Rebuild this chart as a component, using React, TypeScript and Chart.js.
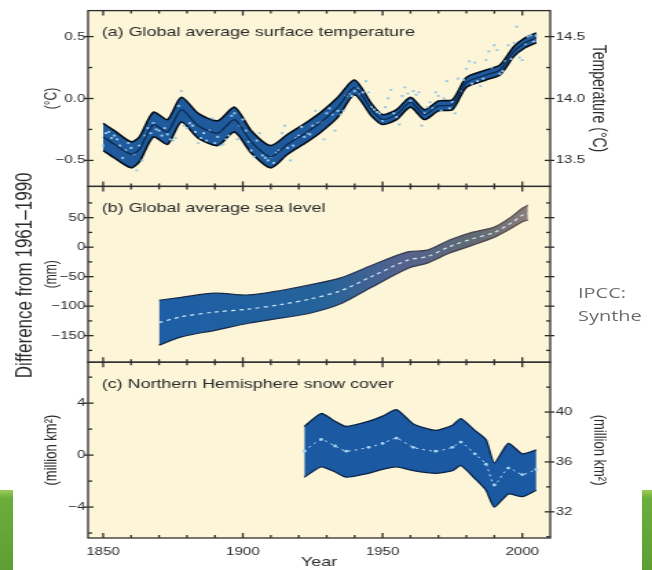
import { useEffect, useRef } from 'react';
import { Chart, registerables } from 'chart.js';

Chart.register(...registerables);

// ---------- data ----------
const X_TICKS = [1850, 1900, 1950, 2000];
const X_TICK_LABELS = ['1850', '1900', '1950', '2000'];

// (a) global average surface temperature, anomaly (°C)
const TEMP_YEARS = [1850, 1854, 1860, 1863, 1868, 1873, 1878, 1884, 1891, 1897, 1903, 1910, 1916, 1923, 1928, 1934, 1940, 1946, 1950, 1955, 1960, 1965, 1970, 1975, 1980, 1987, 1992, 1997, 2001, 2005];
const TEMP_SMOOTH = [-0.31, -0.37, -0.45, -0.41, -0.21, -0.27, -0.09, -0.22, -0.28, -0.17, -0.35, -0.47, -0.37, -0.27, -0.19, -0.07, 0.09, -0.09, -0.17, -0.13, -0.03, -0.13, -0.06, -0.05, 0.13, 0.19, 0.23, 0.38, 0.45, 0.49];
const TEMP_UPPER = [-0.2, -0.26, -0.35, -0.31, -0.11, -0.17, 0.01, -0.12, -0.18, -0.07, -0.26, -0.38, -0.29, -0.19, -0.11, 0.01, 0.15, -0.04, -0.13, -0.09, 0.01, -0.09, -0.02, -0.01, 0.17, 0.23, 0.27, 0.42, 0.49, 0.53];
const TEMP_LOWER = [-0.42, -0.48, -0.56, -0.51, -0.31, -0.37, -0.19, -0.32, -0.38, -0.27, -0.44, -0.56, -0.45, -0.35, -0.27, -0.15, 0.03, -0.14, -0.21, -0.17, -0.07, -0.17, -0.1, -0.09, 0.09, 0.15, 0.19, 0.34, 0.41, 0.45];
const TEMP_ANNUAL_FIRST_YEAR = 1850;
const TEMP_ANNUAL = [
  -0.38, -0.28, -0.27, -0.32, -0.3, -0.33, -0.38, -0.48, -0.42, -0.36,
  -0.4, -0.45, -0.58, -0.38, -0.5, -0.3, -0.24, -0.28, -0.2, -0.25,
  -0.26, -0.3, -0.24, -0.29, -0.33, -0.34, -0.32, -0.06, 0.06, -0.22,
  -0.24, -0.2, -0.22, -0.27, -0.36, -0.32, -0.28, -0.34, -0.26, -0.16,
  -0.36, -0.31, -0.38, -0.37, -0.33, -0.3, -0.14, -0.12, -0.33, -0.22,
  -0.17, -0.26, -0.35, -0.42, -0.47, -0.34, -0.28, -0.46, -0.48, -0.5,
  -0.47, -0.52, -0.44, -0.42, -0.28, -0.22, -0.4, -0.5, -0.38, -0.32,
  -0.3, -0.23, -0.31, -0.28, -0.29, -0.22, -0.1, -0.2, -0.19, -0.33,
  -0.12, -0.08, -0.13, -0.26, -0.1, -0.13, -0.1, 0.02, 0.04, 0.02,
  0.06, 0.08, 0.04, 0.05, 0.14, 0.05, -0.07, -0.09, -0.11, -0.12,
  -0.18, -0.07, 0.0, 0.07, -0.12, -0.15, -0.21, 0.02, 0.09, 0.04,
  -0.02, 0.06, 0.03, 0.05, -0.22, -0.12, -0.07, -0.03, -0.08, 0.05,
  0.02, -0.1, 0.0, 0.14, -0.08, -0.03, -0.12, 0.16, 0.06, 0.15,
  0.24, 0.3, 0.12, 0.29, 0.14, 0.1, 0.16, 0.31, 0.38, 0.25,
  0.43, 0.39, 0.2, 0.22, 0.3, 0.43, 0.32, 0.45, 0.58, 0.33,
  0.31, 0.44, 0.5, 0.51, 0.46, 0.51,
];
const TEMP_TICKS = [-0.5, 0, 0.5];
const TEMP_TICK_LABELS = ['\u22120.5', '0.0', '0.5'];
const TEMP_ABS_TICKS = [13.5, 14.0, 14.5];
const TEMP_ABS_TICK_LABELS = ['13.5', '14.0', '14.5'];

// (b) global average sea level (mm)
const SEA_YEARS = [1870, 1878, 1890, 1902, 1914, 1924, 1935, 1946, 1959, 1966, 1974, 1982, 1990, 1996, 2000, 2002];
const SEA_UPPER = [-90, -85, -78, -81, -73, -64, -52, -31, -8, -5, 12, 25, 34, 51, 66, 71];
const SEA_LOWER = [-166, -152, -141, -129, -120, -112, -96, -68, -36, -27, -10, 3, 17, 32, 43, 46];
const SEA_MEAN = [-128, -118, -110, -105, -97, -88, -74, -50, -22, -16, 1, 14, 25, 41, 54, 58];
const SEA_TICKS = [-150, -100, -50, 0, 50];
const SEA_TICK_LABELS = ['\u2212150', '\u2212100', '\u221250', '0', '50'];

// (c) Northern Hemisphere snow cover (million km²)
const SNOW_YEARS = [1922, 1928, 1933, 1937, 1945, 1950, 1955, 1961, 1969, 1975, 1978, 1983, 1987, 1990, 1995, 2000, 2005];
const SNOW_UPPER = [2.2, 3.2, 2.6, 2.2, 2.6, 3.0, 3.5, 2.4, 1.9, 2.3, 2.8, 1.9, 1.2, -0.6, 0.9, 0.1, 0.4];
const SNOW_LOWER = [-1.7, -0.9, -1.3, -1.7, -1.4, -1.1, -0.9, -1.2, -1.4, -1.2, -0.8, -1.8, -2.7, -4.0, -3.0, -3.2, -2.7];
const SNOW_MEAN = [0.3, 1.2, 0.7, 0.3, 0.6, 0.9, 1.3, 0.6, 0.3, 0.6, 1.0, 0.1, -0.7, -2.3, -1.0, -1.5, -1.1];
const SNOW_TICKS = [-4, 0, 4];
const SNOW_TICK_LABELS = ['\u22124', '0', '4'];
const SNOW_ABS_TICKS = [32, 36, 40];
const SNOW_ABS_TICK_LABELS = ['32', '36', '40'];

const PANEL_TITLES = [
  '(a) Global average surface temperature',
  '(b) Global average sea level',
  '(c) Northern Hemisphere snow cover',
];

// ---------- style ----------
const CANVAS_W = 474;
const CANVAS_H = 570;
const PAGE_W = 652;
const CREAM = '#fcf5d8';
const INK = '#2a2a2a';
const FONT = '"Liberation Sans", Arial, Helvetica, sans-serif';

const pts = (xs: number[], ys: number[]) => xs.map((x, i) => ({ x, y: ys[i] }));
const TEMP_ANNUAL_YEARS = TEMP_ANNUAL.map((_, i) => TEMP_ANNUAL_FIRST_YEAR + i);

function line(ctx: any, x1: number, y1: number, x2: number, y2: number) {
  ctx.beginPath();
  ctx.moveTo(x1, y1);
  ctx.lineTo(x2, y2);
  ctx.stroke();
}

function drawYTicks(ctx: any, s: any, x0: number, dir: number) {
  const majors = s.ticks.map((t: any) => t.value);
  const step = majors[1] - majors[0];
  const minors = [majors[0] - step / 2, ...majors.map((v: number) => v + step / 2)].filter(
    (v) => v > s.min && v < s.max
  );
  majors.forEach((v: number) => {
    const y = s.getPixelForValue(v);
    line(ctx, x0 - dir * 3, y, x0 + dir * 4, y);
  });
  minors.forEach((v: number) => {
    const y = s.getPixelForValue(v);
    line(ctx, x0, y, x0 + dir * 3, y);
  });
}

const panelPlugin = {
  id: 'panels',
  beforeDraw(chart: any) {
    const { ctx, chartArea: a } = chart;
    ctx.save();
    ctx.fillStyle = CREAM;
    ctx.fillRect(a.left, a.top, a.right - a.left, a.bottom - a.top);
    ctx.restore();
  },
  afterDraw(chart: any) {
    const { ctx, chartArea: a, scales } = chart;
    const xs = scales.x;
    ctx.save();
    ctx.strokeStyle = '#2e2e2e';
    ctx.lineWidth = 1.3;
    const panels = [
      { id: 'yA', rid: 'yA2' },
      { id: 'yB', rid: 'yB2' },
      { id: 'yC', rid: 'yC2' },
    ];
    panels.forEach((p, i) => {
      const s = scales[p.id];
      const r = scales[p.rid];
      ctx.strokeRect(a.left, s.top, a.right - a.left, s.bottom - s.top);
      for (let yr = 1850; yr <= 2010; yr += 10) {
        const px = xs.getPixelForValue(yr);
        if (px <= a.left || px >= a.right) continue;
        const len = yr % 50 === 0 ? 5 : 3;
        line(ctx, px, s.top, px, s.top + len);
        line(ctx, px, s.bottom, px, s.bottom - len);
      }
      drawYTicks(ctx, s, a.left, 1);
      drawYTicks(ctx, r, a.right, -1);
      ctx.fillStyle = INK;
      ctx.font = `13px ${FONT}`;
      ctx.textBaseline = 'middle';
      ctx.textAlign = 'left';
      ctx.fillText(PANEL_TITLES[i], a.left + 10, s.top + 22);
    });
    ctx.translate(18, (a.top + a.bottom) / 2 + 1);
    ctx.rotate(-Math.PI / 2);
    ctx.textAlign = 'center';
    ctx.textBaseline = 'middle';
    ctx.fillStyle = INK;
    ctx.font = `17px ${FONT}`;
    ctx.fillText('Difference from 1961\u20131990', 0, 0);
    ctx.restore();
  },
};

function yAxis(opts: any) {
  const { position, stack, min, max, ticks, labels, title, titleSize, titlePad, width, showLabels } = opts;
  return {
    type: 'linear',
    position,
    stack,
    stackWeight: 1,
    min,
    max,
    afterBuildTicks: (s: any) => {
      s.ticks = ticks.map((v: number) => ({ value: v }));
    },
    afterFit: (s: any) => {
      s.width = width;
    },
    grid: { display: false, drawTicks: false },
    border: { display: false },
    ticks: {
      display: showLabels,
      color: INK,
      font: { family: FONT, size: 11 },
      padding: position === 'left' ? 2 : 4,
      autoSkip: false,
      callback: (_v: any, i: number) => (labels ? labels[i] : ''),
    },
    title: {
      display: !!title,
      text: title || '',
      color: INK,
      font: { family: FONT, size: titleSize || 12 },
      padding: { top: titlePad || 30, bottom: 0 },
    },
  };
}

export default function App() {
  const ref = useRef<HTMLCanvasElement>(null);

  useEffect(() => {
    const canvas = ref.current;
    if (!canvas) return;

    const seaFill = (c: any) => {
      const chart = c.chart;
      const xs = chart.scales && chart.scales.x;
      if (!chart.chartArea || !xs) return '#1f5fa8';
      const g = chart.ctx.createLinearGradient(xs.getPixelForValue(1870), 0, xs.getPixelForValue(2002), 0);
      g.addColorStop(0, '#1d5ea6');
      g.addColorStop(0.45, '#25639a');
      g.addColorStop(0.66, '#56628c');
      g.addColorStop(0.86, '#606b72');
      g.addColorStop(1, '#8c7c7a');
      return g;
    };
    const seaEdge = (c: any) => {
      const chart = c.chart;
      const xs = chart.scales && chart.scales.x;
      if (!chart.chartArea || !xs) return '#0d2a48';
      const g = chart.ctx.createLinearGradient(xs.getPixelForValue(1870), 0, xs.getPixelForValue(2002), 0);
      g.addColorStop(0, '#0c2646');
      g.addColorStop(0.6, '#2c3550');
      g.addColorStop(1, '#5a4c4c');
      return g;
    };

    const base = { pointRadius: 0, pointHoverRadius: 0, xAxisID: 'x' };

    const chart = new Chart(canvas, {
      type: 'line',
      data: {
        datasets: [
          // (a)
          { ...base, label: 'temp-lower', yAxisID: 'yA', data: pts(TEMP_YEARS, TEMP_LOWER), borderColor: '#050d18', borderWidth: 1.6, tension: 0.25, fill: false, order: 4 },
          { ...base, label: 'temp-upper', yAxisID: 'yA', data: pts(TEMP_YEARS, TEMP_UPPER), borderColor: '#050d18', borderWidth: 1.6, tension: 0.25, fill: '-1', backgroundColor: '#1e5a9c', order: 5 },
          { ...base, label: 'temp-annual', yAxisID: 'yA', data: pts(TEMP_ANNUAL_YEARS, TEMP_ANNUAL), showLine: false, pointRadius: 1.15, pointBackgroundColor: '#9cc8e6', pointBorderWidth: 0, order: 2 },
          { ...base, label: 'temp-smooth', yAxisID: 'yA', data: pts(TEMP_YEARS, TEMP_SMOOTH), borderColor: '#0c2a50', borderWidth: 1.3, tension: 0.25, fill: false, order: 1 },
          // (b)
          { ...base, label: 'sea-lower', yAxisID: 'yB', data: pts(SEA_YEARS, SEA_LOWER), borderColor: seaEdge, borderWidth: 1.2, tension: 0.3, fill: false, order: 4 },
          { ...base, label: 'sea-upper', yAxisID: 'yB', data: pts(SEA_YEARS, SEA_UPPER), borderColor: seaEdge, borderWidth: 1.2, tension: 0.3, fill: '-1', backgroundColor: seaFill, order: 5 },
          { ...base, label: 'sea-mean', yAxisID: 'yB', data: pts(SEA_YEARS, SEA_MEAN), borderColor: '#cfe7f6', borderWidth: 1.2, borderDash: [3, 3], tension: 0.3, fill: false, order: 1 },
          // (c)
          { ...base, label: 'snow-lower', yAxisID: 'yC', data: pts(SNOW_YEARS, SNOW_LOWER), borderColor: '#0a2448', borderWidth: 1.3, tension: 0.2, fill: false, order: 4 },
          { ...base, label: 'snow-upper', yAxisID: 'yC', data: pts(SNOW_YEARS, SNOW_UPPER), borderColor: '#0a2448', borderWidth: 1.3, tension: 0.2, fill: '-1', backgroundColor: '#1b59a2', order: 5 },
          { ...base, label: 'snow-mean', yAxisID: 'yC', data: pts(SNOW_YEARS, SNOW_MEAN), borderColor: '#bfe0f5', borderWidth: 1, borderDash: [2, 3], tension: 0.2, fill: false, pointRadius: 1.4, pointBackgroundColor: '#a9d4f2', pointBorderWidth: 0, order: 1 },
        ],
      },
      options: {
        animation: false,
        responsive: false,
        devicePixelRatio: 1,
        events: [],
        layout: { padding: { top: 10, left: 0, right: 0, bottom: 0 } },
        plugins: { legend: { display: false }, tooltip: { enabled: false } },
        scales: {
          x: {
            type: 'linear',
            position: 'bottom',
            min: 1844.6,
            max: 2010,
            afterBuildTicks: (s: any) => {
              s.ticks = X_TICKS.map((v) => ({ value: v }));
            },
            afterFit: (s: any) => {
              s.height = 32;
            },
            grid: { display: false, drawTicks: false },
            border: { display: false },
            ticks: {
              color: INK,
              font: { family: FONT, size: 11 },
              padding: 7,
              maxRotation: 0,
              autoSkip: false,
              callback: (_v: any, i: number) => X_TICK_LABELS[i],
            },
            title: { display: true, text: 'Year', color: INK, font: { family: FONT, size: 13 }, padding: { top: 0, bottom: 0 } },
          },
          // left stack: later keys are placed higher
          yC: yAxis({ position: 'left', stack: 'L', min: -6.38, max: 7.15, ticks: SNOW_TICKS, labels: SNOW_TICK_LABELS, title: '(million km\u00b2)', titleSize: 13, titlePad: 30, width: 64, showLabels: true }),
          yB: yAxis({ position: 'left', stack: 'L', min: -195, max: 103, ticks: SEA_TICKS, labels: SEA_TICK_LABELS, title: '(mm)', titleSize: 12, titlePad: 30, width: 64, showLabels: true }),
          yA: yAxis({ position: 'left', stack: 'L', min: -0.71, max: 0.71, ticks: TEMP_TICKS, labels: TEMP_TICK_LABELS, title: '(\u00b0C)', titleSize: 12, titlePad: 30, width: 64, showLabels: true }),
          // right stack: earlier keys are placed higher
          yA2: yAxis({ position: 'right', stack: 'R', min: 13.29, max: 14.71, ticks: TEMP_ABS_TICKS, labels: TEMP_ABS_TICK_LABELS, title: 'Temperature (\u00b0C)', titleSize: 14, titlePad: 31, width: 74, showLabels: true }),
          yB2: yAxis({ position: 'right', stack: 'R', min: -195, max: 103, ticks: SEA_TICKS, labels: null, title: '', width: 74, showLabels: false }),
          yC2: yAxis({ position: 'right', stack: 'R', min: 29.9, max: 44, ticks: SNOW_ABS_TICKS, labels: SNOW_ABS_TICK_LABELS, title: '(million km\u00b2)', titleSize: 13, titlePad: 31, width: 74, showLabels: true }),
        },
      } as any,
      plugins: [panelPlugin],
    } as any);

    return () => chart.destroy();
  }, []);

  const green = 'linear-gradient(180deg, #9bcc55 0px, #6cae3c 8px, #5c9e33 100%)';

  return (
    <div style={{ position: 'absolute', left: 0, top: 0, width: PAGE_W, height: CANVAS_H, background: '#fff', overflow: 'hidden' }}>
      <canvas
        ref={ref}
        width={CANVAS_W}
        height={CANVAS_H}
        style={{ position: 'absolute', left: 0, top: 0, width: `${PAGE_W}px`, height: `${CANVAS_H}px` }}
      />
      <div style={{ position: 'absolute', left: 0, top: 490, width: 13, height: 80, background: green }} />
      <div style={{ position: 'absolute', left: 642, top: 490, width: 10, height: 80, background: green }} />
      <div
        style={{
          position: 'absolute',
          left: 578,
          top: 281,
          transform: `scaleX(${PAGE_W / CANVAS_W})`,
          transformOrigin: 'left top',
          fontFamily: '"Open Sans", "Liberation Sans", sans-serif',
          fontSize: '14.5px',
          lineHeight: '23px',
          color: '#6e6e6e',
          whiteSpace: 'nowrap',
        }}
      >
        IPCC:
        <br />
        Synthe
      </div>
    </div>
  );
}
